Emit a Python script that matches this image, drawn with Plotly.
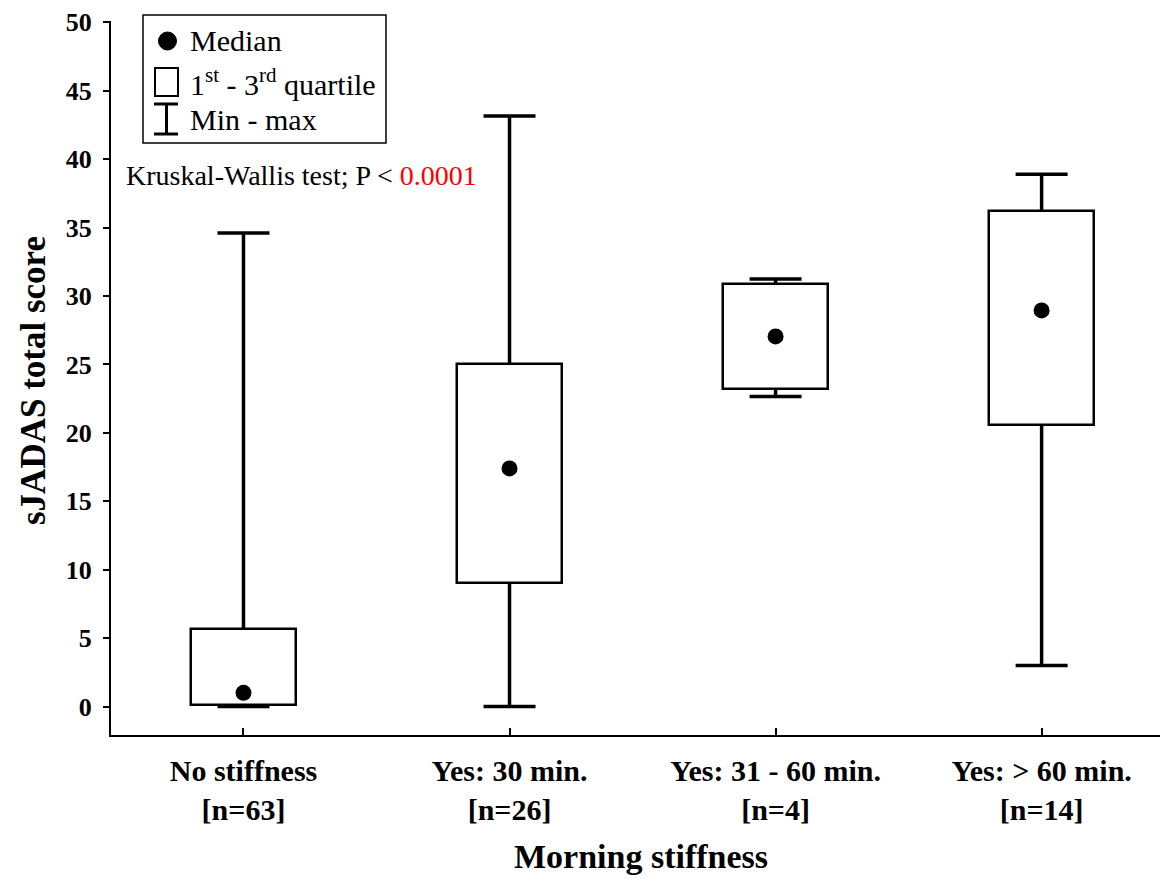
import plotly.graph_objects as go

# Summary statistics of sJADAS total score by morning stiffness group
groups = ["No stiffness<br>[n=63]", "Yes: 30 min.<br>[n=26]",
          "Yes: 31 - 60 min.<br>[n=4]", "Yes: > 60 min.<br>[n=14]"]
minimum = [0.0, 0.0, 22.65, 3.0]
q1 = [0.1, 9.05, 23.2, 20.55]
median = [1.0, 17.4, 27.05, 28.95]
q3 = [5.65, 25.0, 30.9, 36.2]
maximum = [34.6, 43.15, 31.25, 38.9]
y_ticks = [0, 5, 10, 15, 20, 25, 30, 35, 40, 45, 50]

SERIF = "Times New Roman, Liberation Serif, Times, serif"
W, H = 1160, 879
ML, MR, MT, MB = 111, 0, 21, 144
X_RANGE = [-0.498, 3.445]
Y_RANGE = [-2.08, 50.1]

pos = list(range(len(groups)))

fig = go.Figure()

# min-max whiskers on the base axes (drawn underneath the boxes)
fig.add_trace(go.Scatter(
    x=pos, y=median, mode="markers",
    marker=dict(size=1, color="rgba(0,0,0,0)"),
    error_y=dict(type="data", symmetric=False,
                 array=[b - a for a, b in zip(median, maximum)],
                 arrayminus=[a - b for a, b in zip(median, minimum)],
                 color="black", thickness=3.5, width=26),
    showlegend=False, hoverinfo="skip"))

# interquartile boxes on the overlay axes
fig.add_trace(go.Bar(
    x=pos, base=q1, y=[b - a for a, b in zip(q1, q3)], width=0.395,
    marker=dict(color="white", line=dict(color="black", width=2.5)),
    xaxis="x2", yaxis="y2",
    showlegend=False, hoverinfo="skip"))

# medians
fig.add_trace(go.Scatter(
    x=pos, y=median, mode="markers",
    marker=dict(size=16, color="black"),
    xaxis="x2", yaxis="y2",
    showlegend=False, hoverinfo="skip"))


def px(x):
    return (x - ML) / (W - ML - MR)


def py(y):
    return (H - MB - y) / (H - MT - MB)


shapes = [
    # legend frame
    dict(type="rect", xref="paper", yref="paper",
         x0=px(143), x1=px(386), y0=py(143), y1=py(15),
         line=dict(color="black", width=1.5), fillcolor="white"),
    # median symbol
    dict(type="circle", xref="paper", yref="paper",
         x0=px(158.5), x1=px(176.5), y0=py(50), y1=py(32),
         line=dict(color="black", width=1), fillcolor="black"),
    # quartile symbol
    dict(type="rect", xref="paper", yref="paper",
         x0=px(155), x1=px(178), y0=py(96), y1=py(68),
         line=dict(color="black", width=2)),
    # min-max symbol
    dict(type="line", xref="paper", yref="paper",
         x0=px(154), x1=px(178), y0=py(104), y1=py(104),
         line=dict(color="black", width=3)),
    dict(type="line", xref="paper", yref="paper",
         x0=px(154), x1=px(178), y0=py(134), y1=py(134),
         line=dict(color="black", width=3)),
    dict(type="line", xref="paper", yref="paper",
         x0=px(166.5), x1=px(166.5), y0=py(104), y1=py(134),
         line=dict(color="black", width=3)),
]

legend_font = dict(family=SERIF, size=30, color="black")
annotations = [
    dict(text="Median", xref="paper", yref="paper", x=px(188), y=py(40),
         xanchor="left", yanchor="middle", showarrow=False, font=legend_font),
    dict(text="1<sup>st</sup> - 3<sup>rd</sup> quartile", xref="paper", yref="paper",
         x=px(188), y=py(82), xanchor="left", yanchor="middle",
         showarrow=False, font=legend_font),
    dict(text="Min - max", xref="paper", yref="paper", x=px(188), y=py(120),
         xanchor="left", yanchor="middle", showarrow=False, font=legend_font),
    dict(text="Kruskal-Wallis test; P < <span style='color:red'>0.0001</span>",
         xref="paper", yref="paper", x=px(124), y=py(175),
         xanchor="left", yanchor="middle", showarrow=False,
         font=dict(family=SERIF, size=28, color="black")),
    # axis titles
    dict(text="sJADAS total score", xref="paper", yref="paper",
         x=px(33), y=py(381), xanchor="center", yanchor="middle",
         textangle=-90, showarrow=False,
         font=dict(family=SERIF, size=35, color="black", weight="bold")),
    dict(text="Morning stiffness", xref="paper", yref="paper",
         x=px(641), y=py(856), xanchor="center", yanchor="middle",
         showarrow=False,
         font=dict(family=SERIF, size=34, color="black", weight="bold")),
]

fig.update_layout(
    width=W, height=H,
    margin=dict(l=ML, r=MR, t=MT, b=MB, autoexpand=False),
    paper_bgcolor="white", plot_bgcolor="white",
    shapes=shapes, annotations=annotations,
    bargap=0,
    xaxis=dict(
        range=X_RANGE, tickvals=pos, ticktext=groups,
        showgrid=False, zeroline=False,
        showline=True, linecolor="black", linewidth=2,
        ticks="inside", ticklen=7, tickwidth=1.5, tickcolor="black",
        ticklabelstandoff=8,
        tickfont=dict(family=SERIF, size=30, color="black", weight="bold"),
    ),
    yaxis=dict(
        range=Y_RANGE, tickvals=y_ticks,
        showgrid=False, zeroline=False,
        showline=True, linecolor="black", linewidth=2,
        ticks="outside", ticklen=6, tickwidth=1.5, tickcolor="black",
        ticklabelstandoff=6,
        tickfont=dict(family=SERIF, size=26, color="black", weight="bold"),
    ),
    xaxis2=dict(range=X_RANGE, overlaying="x", visible=False),
    yaxis2=dict(range=Y_RANGE, overlaying="y", visible=False),
)

fig.write_html("out.html")
